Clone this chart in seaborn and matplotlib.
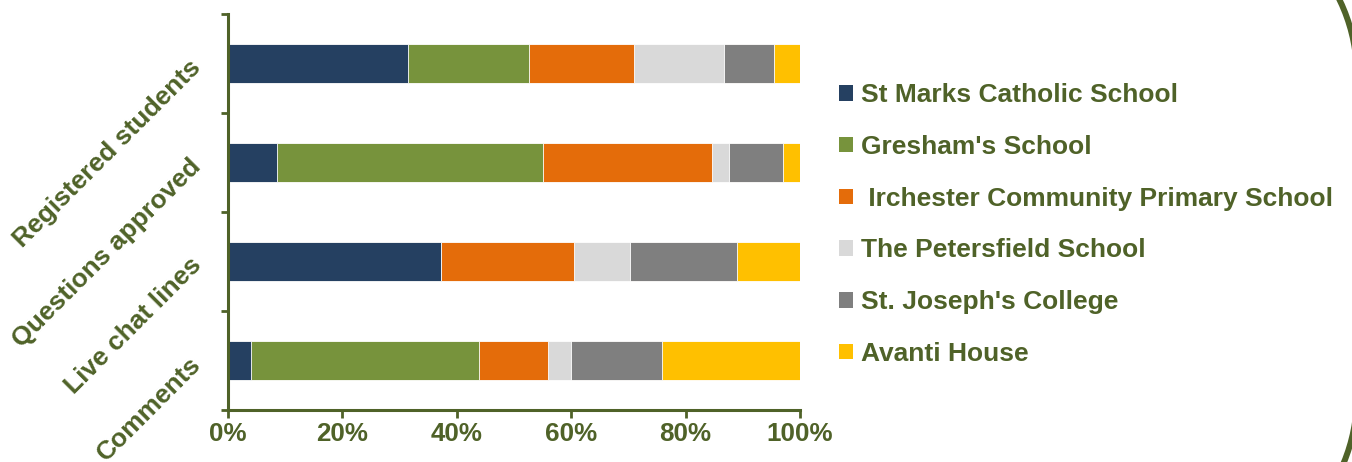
import matplotlib
matplotlib.use('Agg')
import matplotlib.pyplot as plt
from matplotlib.patches import Patch, Arc
import pandas as pd
import seaborn as sns

# Share of each school per activity (%)
categories = ['Registered students', 'Questions approved', 'Live chat lines', 'Comments']
schools = ['St Marks Catholic School', "Gresham's School", ' Irchester Community Primary School',
           'The Petersfield School', "St. Joseph's College", 'Avanti House']
st_marks = [31.5, 8.5, 37.2, 4.0]
gresham = [21.1, 46.6, 0.0, 39.9]
irchester = [18.4, 29.5, 23.3, 12.0]
petersfield = [15.8, 3.0, 9.8, 4.0]
st_joseph = [8.7, 9.4, 18.7, 16.0]
avanti = [4.5, 3.0, 11.0, 24.1]
colors = ['#254061', '#77933C', '#E46C0A', '#D9D9D9', '#7F7F7F', '#FFC000']
x_ticks = [0, 20, 40, 60, 80, 100]

TEXT = '#4F6228'

sns.set_style('white')
plt.rcParams['font.family'] = ['Liberation Sans', 'DejaVu Sans']
plt.rcParams['font.weight'] = 'bold'

df = pd.DataFrame(dict(zip(schools, [st_marks, gresham, irchester, petersfield, st_joseph, avanti])),
                  index=categories)
df = df.div(df.sum(axis=1), axis=0) * 100
cum = df.cumsum(axis=1)

fig = plt.figure(figsize=(13.52, 4.62), dpi=100)

# background axes in pixel units, for the rounded corners of the slide frame
bg = fig.add_axes([0, 0, 1, 1], zorder=-1)
bg.set_xlim(0, 1352)
bg.set_ylim(0, 462)
bg.axis('off')
bg.add_patch(Arc((1182, 386), 350, 350, theta1=0, theta2=90,
                 edgecolor=TEXT, linewidth=4.3, clip_on=False))
bg.add_patch(Arc((1182, 66), 350, 350, theta1=270, theta2=360,
                 edgecolor=TEXT, linewidth=4.3, clip_on=False))

ax = fig.add_axes([0.1686, 0.1126, 0.4231, 0.8571])
ax.patch.set_alpha(0)

# stacked bars: draw cumulative totals from the back to the front
for school, col in reversed(list(zip(schools, colors))):
    plot_df = pd.DataFrame({'value': cum[school].values, 'category': categories})
    sns.barplot(data=plot_df, x='value', y='category', order=categories, orient='h',
                color=col, saturation=1, width=0.4, errorbar=None,
                edgecolor='white', linewidth=0.6, ax=ax)

ax.set_xlim(0, 100)
ax.set_ylim(3.5, -0.5)
ax.set_xlabel('')
ax.set_ylabel('')

ax.set_xticks(x_ticks)
ax.set_xticklabels([f'{v}%' for v in x_ticks], fontsize=18.7, fontweight='bold', color=TEXT)
ax.set_yticks(range(len(categories)))
ax.set_yticklabels(categories, fontsize=19, fontweight='bold', color=TEXT,
                   rotation=45, ha='right', va='center', rotation_mode='anchor')
ax.set_yticks([i - 0.5 for i in range(len(categories) + 1)], minor=True)
ax.tick_params(axis='y', which='major', length=0, pad=22)
ax.tick_params(axis='y', which='minor', length=5, width=2, color=TEXT, direction='out', left=True)
ax.tick_params(axis='x', which='major', length=6, width=2, color=TEXT, direction='out',
               bottom=True, pad=3)

for side in ['top', 'right']:
    ax.spines[side].set_visible(False)
for side in ['left', 'bottom']:
    ax.spines[side].set_color(TEXT)
    ax.spines[side].set_linewidth(2.2)

handles = [Patch(facecolor=c, edgecolor='none', label=s) for s, c in zip(schools, colors)]
leg = fig.legend(handles=handles, loc='center left', bbox_to_anchor=(0.6206, 0.514),
                 frameon=False, fontsize=19, handlelength=0.53, handleheight=0.53,
                 handletextpad=0.3, labelspacing=1.05, borderpad=0, borderaxespad=0)
for t in leg.get_texts():
    t.set_color(TEXT)
    t.set_fontweight('bold')

fig.savefig('out.png', dpi=100)
